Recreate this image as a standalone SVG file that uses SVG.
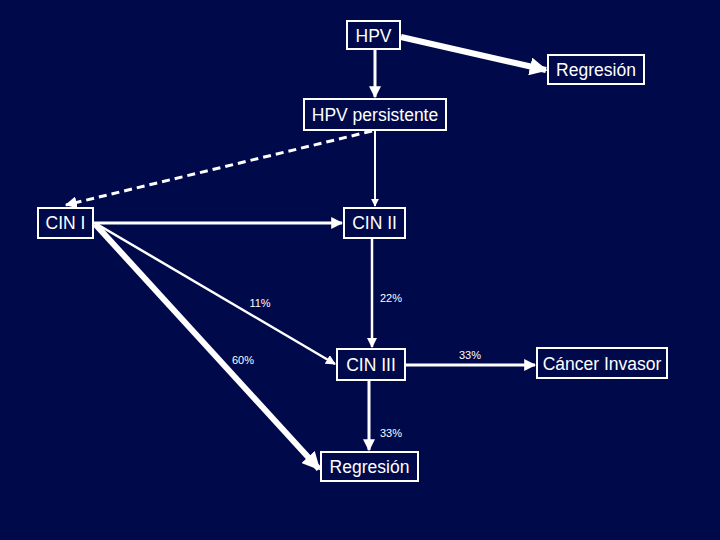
<svg xmlns="http://www.w3.org/2000/svg" width="720" height="540" viewBox="0 0 720 540">
<defs>
<style>
.box{fill:#000a4a;stroke:#fff;stroke-width:2}
.t{fill:#fff;font-family:"Liberation Sans",Arial,sans-serif;font-size:17.5px;text-anchor:middle}
.p{fill:#fff;font-family:"Liberation Sans",Arial,sans-serif;font-size:11px;text-anchor:middle}
.c{stroke:#fff;fill:none}
</style>
<marker id="ah" viewBox="0 0 10 10" refX="9" refY="5" markerWidth="4" markerHeight="4" orient="auto" markerUnits="strokeWidth"><path d="M0,0L10,5L0,10z" fill="#fff"/></marker>
<marker id="ahs" viewBox="0 0 10 10" refX="9" refY="5" markerWidth="3" markerHeight="3" orient="auto" markerUnits="strokeWidth"><path d="M0,0L10,5L0,10z" fill="#fff"/></marker>
</defs>
<rect width="720" height="540" fill="#000a4a"/>
<g id="connectors">
<line class="c" x1="401" y1="37" x2="546" y2="70" stroke-width="6" marker-end="url(#ahs)"/>
<line class="c" x1="375" y1="50" x2="375" y2="97" stroke-width="3" marker-end="url(#ah)"/>
<line class="c" x1="375" y1="130" x2="375" y2="206" stroke-width="2" marker-end="url(#ah)"/>
<line class="c" x1="372" y1="131" x2="66" y2="205" stroke-width="3" stroke-dasharray="8,5" marker-end="url(#ah)"/>
<line class="c" x1="94" y1="223" x2="342" y2="223" stroke-width="3" marker-end="url(#ah)"/>
<line class="c" x1="95" y1="223" x2="335" y2="364" stroke-width="2.5" marker-end="url(#ah)"/>
<line class="c" x1="95" y1="224" x2="319" y2="469" stroke-width="6" marker-end="url(#ahs)"/>
<line class="c" x1="372" y1="239" x2="372" y2="347" stroke-width="2.5" marker-end="url(#ah)"/>
<line class="c" x1="406" y1="365" x2="535" y2="365" stroke-width="3" marker-end="url(#ah)"/>
<line class="c" x1="369" y1="381" x2="369" y2="450" stroke-width="3" marker-end="url(#ah)"/>
</g>
<g id="hpv"><rect class="box" x="347" y="21" width="53" height="28"/><text class="t" x="373.5" y="41.5">HPV</text></g>
<g id="regresion1"><rect class="box" x="548" y="55" width="96" height="29"/><text class="t" x="596" y="75.5">Regresión</text></g>
<g id="hpv-persistente"><rect class="box" x="304" y="99" width="142" height="31"/><text class="t" x="375" y="120.5">HPV persistente</text></g>
<g id="cin1"><rect class="box" x="38" y="208" width="55" height="30"/><text class="t" x="65.5" y="229">CIN I</text></g>
<g id="cin2"><rect class="box" x="344" y="208" width="61" height="30"/><text class="t" x="374.5" y="229">CIN II</text></g>
<g id="cin3"><rect class="box" x="337" y="349" width="68" height="31"/><text class="t" x="371" y="370.5">CIN III</text></g>
<g id="cancer"><rect class="box" x="537" y="348" width="130" height="30"/><text class="t" x="602" y="369.5">Cáncer Invasor</text></g>
<g id="regresion2"><rect class="box" x="321" y="452" width="97" height="29"/><text class="t" x="369.5" y="473">Regresión</text></g>
<g id="labels">
<text class="p" x="260" y="307">11%</text>
<text class="p" x="391" y="302">22%</text>
<text class="p" x="243" y="364">60%</text>
<text class="p" x="470" y="359">33%</text>
<text class="p" x="391" y="437">33%</text>
</g>
</svg>
